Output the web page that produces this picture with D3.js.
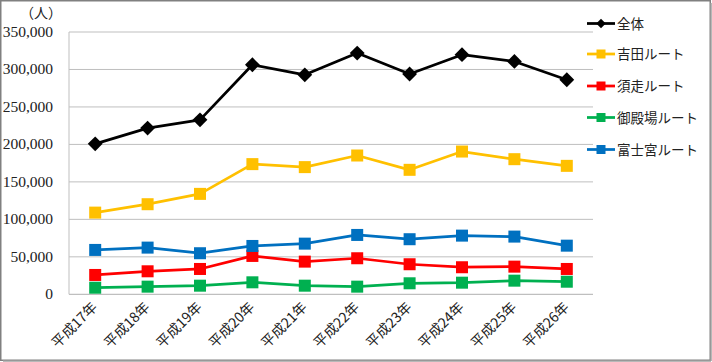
<!DOCTYPE html>
<html><head><meta charset="utf-8">
<script src="https://cdn.jsdelivr.net/npm/d3@7"></script>
<style>body{margin:0;background:#fff}svg{display:block}</style>
</head><body>
<script>
const categories = ["平成17年","平成18年","平成19年","平成20年","平成21年","平成22年","平成23年","平成24年","平成25年","平成26年"];
const seriesNames = ["全体","吉田ルート","須走ルート","御殿場ルート","富士宮ルート"];
const total    = [200800,221800,232800,306300,292900,321900,294000,319700,310700,286300];
const yoshida  = [109000,120200,134000,173700,169700,185200,166100,190500,180300,171400];
const subashiri= [25800,30700,33800,51200,43600,48100,40100,36100,36900,33800];
const gotemba  = [8800,10200,11500,16000,11500,10200,14700,15500,18200,16800];
const fujinomiya=[59200,62300,54800,64500,67600,79200,73500,78300,77000,64900];
const yTicks = [0,50000,100000,150000,200000,250000,300000,350000];
const colors = ["#000000","#FFC000","#FF0000","#00B050","#0070C0"];
const seriesValues = [total,yoshida,subashiri,gotemba,fujinomiya];

const W=712,H=362;
const svg=d3.select("body").append("svg").attr("width",W).attr("height",H);
svg.append("rect").attr("x",0.75).attr("y",0.75).attr("width",W-2.5).attr("height",H-2.5)
  .attr("fill","#fff").attr("stroke","#808080").attr("stroke-width",1.5);
svg.append("line").attr("x1",3).attr("x2",W-1).attr("y1",H-1).attr("y2",H-1).attr("stroke","#a0a0a0").attr("stroke-width",1.5);
svg.append("line").attr("x1",W-1).attr("x2",W-1).attr("y1",3).attr("y2",H-1).attr("stroke","#a0a0a0").attr("stroke-width",1.5);

const x=d3.scaleBand().domain(categories).range([69,593]);
const y=d3.scaleLinear().domain([0,350000]).range([294.3,32]);

svg.append("g").selectAll("line").data(yTicks.filter(d=>d>0)).join("line")
  .attr("x1",69).attr("x2",593).attr("y1",d=>y(d)).attr("y2",d=>y(d))
  .attr("stroke","#bfbfbf").attr("stroke-width",1);
svg.append("line").attr("x1",69).attr("x2",69).attr("y1",32).attr("y2",294.3).attr("stroke","#bfbfbf");
svg.append("line").attr("x1",69).attr("x2",593).attr("y1",294.3).attr("y2",294.3).attr("stroke","#bfbfbf").attr("stroke-width",1.2);

const fmt=d3.format(",");
svg.append("g").selectAll("text").data(yTicks).join("text")
  .attr("x",53).attr("y",d=>y(d)+5).attr("text-anchor","end")
  .attr("font-family","'Liberation Serif','DejaVu Serif',serif").attr("font-size",15.5).attr("fill","#222")
  .text(d=>fmt(d));
svg.append("text").attr("x",20).attr("y",18).attr("font-family","'Noto Sans CJK JP',sans-serif")
  .attr("font-size",14).attr("fill","#222").text("（人）");

svg.append("g").selectAll("text").data(categories).join("text")
  .attr("transform",d=>`translate(${x(d)+x.bandwidth()/2+3},${308}) rotate(-45)`)
  .attr("text-anchor","end")
  .attr("font-family","'Noto Sans CJK JP',sans-serif").attr("font-size",14).attr("fill","#222")
  .text(d=>d);

const line=d3.line().x((d,i)=>x(categories[i])+x.bandwidth()/2).y(d=>y(d));
seriesValues.forEach((vals,si)=>{
  const g=svg.append("g");
  g.append("path").attr("d",line(vals)).attr("fill","none").attr("stroke",colors[si]).attr("stroke-width",2.75).attr("stroke-linejoin","round");
  if(si===0){
    g.selectAll("path.m").data(vals).join("path").attr("class","m")
      .attr("d",d3.symbol(d3.symbolSquare,110))
      .attr("transform",(d,i)=>`translate(${x(categories[i])+x.bandwidth()/2},${y(d)}) rotate(45)`)
      .attr("fill",colors[si]);
  } else {
    g.selectAll("rect").data(vals).join("rect")
      .attr("x",(d,i)=>x(categories[i])+x.bandwidth()/2-6).attr("y",d=>y(d)-6)
      .attr("width",12).attr("height",12).attr("fill",colors[si]);
  }
});

const ly=[23.5,54,86,117.5,149.5];
seriesNames.forEach((n,si)=>{
  const g=svg.append("g").attr("transform",`translate(0,${ly[si]})`);
  g.append("line").attr("x1",587).attr("x2",615).attr("stroke",colors[si]).attr("stroke-width",2.75);
  if(si===0){
    g.append("path").attr("d",d3.symbol(d3.symbolSquare,45)).attr("transform","translate(601,0) rotate(45)").attr("fill",colors[si]);
  } else {
    g.append("rect").attr("x",596.5).attr("y",-4.5).attr("width",9).attr("height",9).attr("fill",colors[si]);
  }
  g.append("text").attr("x",617).attr("y",5).attr("font-family","'Noto Sans CJK JP',sans-serif")
    .attr("font-size",13.5).attr("fill","#222").text(n);
});
</script>
</body></html>
